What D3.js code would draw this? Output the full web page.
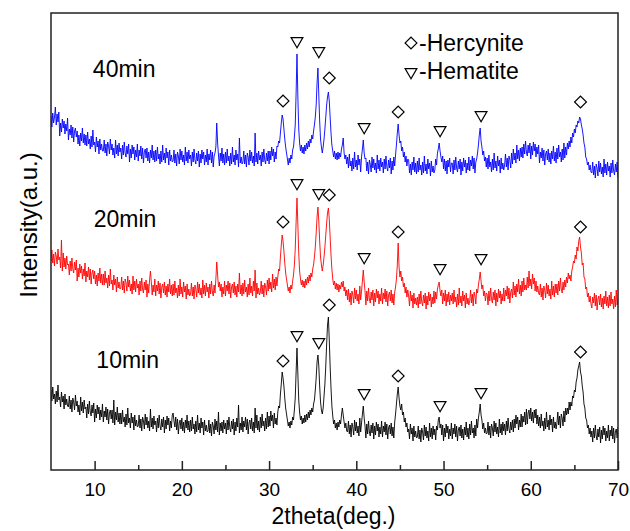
<!DOCTYPE html>
<html>
<head>
<meta charset="utf-8">
<script src="https://cdn.jsdelivr.net/npm/d3@7"></script>
<style>
  body { margin: 0; background: #fff; }
  svg { display: block; }
  text { font-family: "Liberation Sans", Arial, sans-serif; fill: #000; }
</style>
</head>
<body>
<svg id="chart" width="630" height="531"></svg>
<script>
// ---- Scan settings (2theta grid, degrees) ----
const scanStart = 5;
const scanStep = 0.1;

// ---- Sample names and stacking offsets (a.u.) ----
const sampleNames = ["10min", "20min", "40min"];
const sampleOffsets = [0, 133, 265];

// ---- Measured intensities (a.u.), one value per scan step, 5.0 to 70.0 deg (one row = 2 deg) ----
const int10 = [
  80,69,83,71,76,66,79,68,85,70,73,63,78,68,74,61,76,65,71,64,
  63,74,61,70,58,72,68,60,75,64,69,58,65,55,73,59,68,57,70,61,
  63,52,66,56,69,58,54,65,57,67,48,61,52,65,56,63,50,60,53,66,
  48,59,53,63,50,61,46,57,60,51,60,47,70,45,58,50,63,48,57,46,
  57,46,60,48,53,43,56,45,62,47,52,42,57,47,53,40,55,44,50,43,
  44,55,42,51,39,53,49,41,56,45,53,42,49,39,61,43,52,41,54,45,
  49,38,52,42,55,44,40,51,43,53,37,50,41,54,45,52,39,49,42,55,
  57,49,43,53,40,51,36,47,50,41,52,39,48,37,50,42,55,40,49,38,
  50,39,53,41,46,36,49,38,55,40,47,37,52,42,48,35,50,39,45,38,
  39,50,37,46,34,48,44,36,51,40,49,38,58,35,47,39,48,37,50,41,
  47,36,50,40,53,42,38,49,41,51,35,48,39,52,43,65,37,47,40,53,
  38,49,43,53,40,51,36,47,50,41,52,39,48,37,62,42,55,40,49,38,
  53,42,56,44,49,39,52,41,58,43,54,44,59,49,55,42,57,46,52,45,
  58,64,62,76,86,98,92,84,72,62,56,50,44,48,42,49,45,53,50,60,
  72,98,122,96,70,58,50,54,46,52,47,55,48,56,50,58,52,60,55,62,
  58,66,70,80,92,108,115,104,84,68,60,56,62,74,86,104,126,145,153,130,
  104,82,64,54,46,50,42,47,40,48,43,50,46,55,62,55,48,42,47,39,
  38,49,36,45,33,47,43,35,50,39,48,37,44,34,52,38,47,56,64,52,
  44,32,46,36,49,38,34,45,37,47,31,44,35,48,39,46,33,43,36,49,
  33,44,38,48,35,46,31,42,45,36,47,34,43,32,48,56,66,76,83,72,
  64,60,66,55,58,48,52,43,47,38,41,31,46,36,42,29,44,33,39,32,
  33,44,31,40,28,42,38,30,45,34,43,32,39,29,47,33,42,31,44,35,
  41,30,44,40,50,53,42,46,35,45,29,42,33,46,37,44,31,41,34,47,
  31,42,36,46,33,44,29,40,43,34,45,32,41,30,43,35,48,33,42,31,
  46,35,49,37,42,32,45,34,51,42,52,58,66,55,50,41,47,37,42,36,
  37,48,35,44,32,46,42,34,49,38,47,36,43,33,51,37,46,35,48,39,
  46,35,49,39,52,41,37,48,40,50,38,51,42,55,46,53,40,50,43,56,
  43,54,48,58,45,61,46,57,60,51,62,49,58,47,60,52,61,46,55,44,
  53,42,56,44,49,39,52,41,58,43,50,40,55,45,51,38,53,42,48,41,
  47,58,45,54,42,56,52,44,59,48,62,55,62,56,68,60,68,64,74,72,
  80,78,88,92,100,104,108,98,94,84,78,66,62,52,50,42,45,36,42,33,
  39,28,42,32,45,34,30,41,33,43,27,40,31,44,35,42,29,39,32,45,
  29,40,34,44,31,42,27,38,41,32,43
];
const int20 = [
  76,87,74,83,71,85,81,73,88,77,80,69,97,66,84,70,79,68,81,72,
  73,62,76,66,79,68,64,75,67,77,56,69,60,73,64,71,58,68,61,74,
  55,66,60,70,57,68,53,64,67,58,66,53,62,51,64,56,69,54,63,52,
  63,52,66,54,59,49,62,51,68,53,57,47,62,52,58,45,60,49,55,48,
  49,60,47,56,44,58,54,46,61,50,57,46,53,43,61,47,56,45,58,49,
  53,42,56,46,59,48,44,55,47,57,40,53,44,57,66,55,42,52,45,58,
  41,52,46,56,43,54,39,50,53,44,55,42,51,40,53,45,58,43,52,41,
  53,42,56,44,49,39,52,41,58,43,50,40,55,45,51,38,53,42,48,41,
  43,54,41,50,38,52,48,40,55,44,53,42,49,39,57,43,52,41,54,45,
  50,39,53,43,56,45,41,52,44,58,75,62,50,55,46,53,40,50,43,56,
  41,52,46,56,43,54,39,50,53,44,55,42,51,40,53,45,64,43,52,41,
  54,43,57,45,50,40,53,42,59,44,51,41,56,46,67,39,54,43,49,42,
  45,56,43,52,40,54,50,42,57,46,59,48,55,45,63,49,58,47,60,51,
  60,68,66,80,92,102,96,86,74,64,58,52,46,50,44,52,48,56,62,72,
  88,115,139,112,84,66,58,52,57,50,56,49,58,52,60,54,62,56,64,60,
  68,72,80,90,104,120,130,116,96,80,72,66,72,80,90,102,114,124,129,118,
  100,82,68,58,52,56,48,54,47,53,45,52,48,55,50,56,46,50,41,47,
  37,48,35,44,32,46,42,34,49,38,47,36,43,33,51,37,46,56,67,55,
  46,32,46,36,49,38,34,45,37,47,31,44,35,48,39,46,33,43,36,49,
  33,44,38,48,35,46,31,42,45,36,47,34,43,32,45,50,58,72,94,70,
  60,66,56,60,50,54,44,50,40,47,41,31,46,36,42,29,44,33,39,32,
  40,29,43,33,46,35,31,42,34,44,28,41,32,45,36,43,30,40,33,46,
  34,45,38,48,52,55,46,41,47,33,44,36,47,31,43,35,45,32,42,36,
  44,33,47,35,40,30,43,32,49,34,41,31,46,36,42,29,44,33,39,32,
  36,47,34,43,31,45,41,33,48,44,52,58,65,56,48,52,41,46,36,44,
  43,32,46,36,49,38,34,45,37,47,31,44,35,48,39,46,33,43,36,49,
  36,47,41,51,38,49,34,45,48,39,55,42,51,40,53,45,58,43,52,41,
  56,45,59,47,52,47,60,49,66,51,58,48,63,53,59,46,56,45,51,44,
  42,53,40,49,37,51,47,39,54,43,52,41,48,38,56,42,51,40,53,44,
  53,42,56,46,59,48,44,55,47,57,50,60,54,64,58,62,56,66,70,76,
  74,82,78,90,86,96,100,90,84,72,74,60,58,48,50,40,44,35,41,33,
  29,40,34,44,31,42,27,38,41,32,43,30,39,28,41,33,46,31,40,29,
  42,31,45,33,38,28,41,30,47,32,39
];
const int40 = [
  89,78,92,82,88,98,80,91,83,93,69,82,73,86,77,84,71,81,74,87,
  65,76,70,80,67,78,63,74,77,68,74,61,70,59,72,64,77,62,71,60,
  70,59,73,61,66,56,69,58,75,60,63,53,68,58,64,51,66,55,61,54,
  54,65,52,61,49,63,59,51,66,55,61,50,57,47,65,51,60,49,62,53,
  57,46,60,50,63,52,48,59,51,61,43,56,47,60,51,58,45,55,48,61,
  44,55,49,59,46,57,42,53,56,47,57,44,53,42,55,47,60,45,54,43,
  55,44,58,46,51,41,54,43,60,45,52,42,57,47,53,40,55,44,50,43,
  44,55,42,51,39,53,49,41,56,45,54,43,50,40,58,44,53,42,55,46,
  50,39,53,43,56,45,41,52,44,54,38,51,42,55,46,53,40,50,43,56,
  40,51,45,55,42,53,38,49,52,58,82,62,50,39,52,44,57,42,51,40,
  53,42,56,44,49,39,52,41,58,43,50,40,55,45,51,38,67,42,48,41,
  43,54,41,50,38,52,48,40,55,44,53,42,49,39,72,43,52,41,54,45,
  50,39,53,43,56,45,41,52,44,54,41,54,45,58,49,56,43,53,46,59,
  58,64,62,72,82,90,86,76,66,58,52,46,40,47,42,50,46,55,58,68,
  80,112,151,108,76,62,54,60,52,58,51,60,54,62,56,64,58,66,62,70,
  66,74,80,88,100,122,137,110,84,66,58,52,58,66,76,88,100,108,113,104,
  88,72,60,54,48,54,46,52,45,53,46,52,48,56,60,67,52,46,50,41,
  48,37,51,39,44,34,47,36,53,38,45,35,50,40,46,33,48,56,65,52,
  46,47,34,43,31,45,41,33,48,37,46,35,42,32,50,36,45,34,47,38,
  43,32,46,36,49,38,34,45,37,47,31,44,35,48,39,50,60,72,81,70,
  62,64,54,58,48,53,43,49,39,46,45,32,41,30,43,35,48,33,42,31,
  44,33,47,35,40,30,43,32,49,34,41,31,46,36,42,29,44,33,39,32,
  35,46,40,52,56,62,54,48,43,49,36,46,34,44,31,45,38,47,33,42,
  42,31,45,35,48,37,33,44,36,46,30,43,34,47,38,45,32,42,35,48,
  34,45,39,49,36,47,32,43,46,52,60,70,77,64,58,50,54,44,48,38,
  47,36,50,38,43,33,46,35,52,37,44,34,49,39,45,32,47,36,42,35,
  40,51,38,47,35,49,45,37,52,41,56,45,52,42,60,46,55,44,57,48,
  58,47,61,51,64,53,49,60,52,62,46,59,50,63,54,61,48,58,51,60,
  42,53,47,57,44,55,40,51,54,45,56,43,52,41,54,46,59,44,53,42,
  57,46,60,48,53,43,56,45,62,47,58,50,62,56,64,58,68,62,72,68,
  76,72,80,78,84,82,88,86,80,76,70,62,58,48,46,40,43,35,40,33,
  32,43,30,39,27,41,37,29,44,33,42,31,38,28,46,32,41,30,43,34,
  39,28,42,32,45,34,30,41,33,43,27
];
const sampleIntensities = [int10, int20, int40];

// ---- Phase reflections (2theta) and marker heights above each pattern (a.u.) ----
const hercyniteAngles = [31.6, 36.9, 44.8, 65.7];
const hematiteAngles = [33.2, 35.7, 40.9, 49.6, 54.3];
const hercyniteHeights = [
  [109, 165, 94, 118],
  [115, 142, 105, 110],
  [104, 127, 93, 103]
];
const hematiteHeights = [
  [135, 128, 77, 65, 78],
  [154, 144, 80, 69, 79],
  [164, 154, 78, 75, 90]
];

// ---- Axis ticks and legend ----
const majorTicks = [10, 20, 30, 40, 50, 60, 70];
const minorTicks = [15, 25, 35, 45, 55, 65];
const legendLabels = ["-Hercynite", "-Hematite"];

// ---- Styling ----
const lineColors = ["#000000", "#ff0000", "#0000ff"];

const svg = d3.select("#chart");
const plot = { left: 51, right: 618, top: 13, bottom: 470 };

const x = d3.scaleLinear().domain([5, 70]).range([plot.left, plot.right]);
const y = d3.scaleLinear().domain([0, 457]).range([plot.bottom, plot.top]);

svg.append("defs").append("clipPath").attr("id", "plot-clip")
  .append("rect")
  .attr("x", plot.left).attr("y", plot.top)
  .attr("width", plot.right - plot.left).attr("height", plot.bottom - plot.top);

// Diffraction patterns, stacked by offset
const line = d3.line()
  .x((d, i) => x(scanStart + i * scanStep))
  .y(d => y(d));

const traces = svg.append("g").attr("clip-path", "url(#plot-clip)");
sampleIntensities.forEach((vals, s) => {
  traces.append("path")
    .datum(vals.map(v => v + sampleOffsets[s]))
    .attr("fill", "none")
    .attr("stroke", lineColors[s])
    .attr("stroke-width", 0.9)
    .attr("d", line);
});

// Phase markers: open diamonds (hercynite) and open down-triangles (hematite)
const diamond = d3.symbol().type(d3.symbolSquare).size(70);
const triangle = d3.symbol().type(d3.symbolTriangle).size(60);
const markers = svg.append("g")
  .attr("fill", "#fff").attr("stroke", "#000").attr("stroke-width", 1.2);

sampleOffsets.forEach((off, s) => {
  hercyniteAngles.forEach((a, k) => {
    markers.append("path")
      .attr("d", diamond())
      .attr("transform", `translate(${x(a)},${y(off + hercyniteHeights[s][k])}) rotate(45)`);
  });
  hematiteAngles.forEach((a, k) => {
    markers.append("path")
      .attr("d", triangle())
      .attr("transform", `translate(${x(a)},${y(off + hematiteHeights[s][k])}) rotate(180)`);
  });
});

// Sample labels
const labelAnchors = [[10.2, 102], [9.9, 110], [9.8, 128]];
sampleNames.forEach((name, s) => {
  svg.append("text")
    .attr("x", x(labelAnchors[s][0]))
    .attr("y", y(sampleOffsets[s] + labelAnchors[s][1]))
    .attr("font-size", 23)
    .text(name);
});

// Legend
const legend = svg.append("g");
legend.append("path")
  .attr("d", diamond())
  .attr("transform", "translate(411,43) rotate(45)")
  .attr("fill", "#fff").attr("stroke", "#000").attr("stroke-width", 1.2);
legend.append("path")
  .attr("d", triangle())
  .attr("transform", "translate(411,72) rotate(180)")
  .attr("fill", "#fff").attr("stroke", "#000").attr("stroke-width", 1.2);
legendLabels.forEach((t, k) => {
  legend.append("text")
    .attr("x", 419).attr("y", 51 + k * 28)
    .attr("font-size", 23)
    .text(t);
});

// Frame
svg.append("rect")
  .attr("x", plot.left).attr("y", plot.top)
  .attr("width", plot.right - plot.left).attr("height", plot.bottom - plot.top)
  .attr("fill", "none").attr("stroke", "#222").attr("stroke-width", 1.5);

// X axis with inward ticks
const xAxis = svg.append("g")
  .attr("transform", `translate(0,${plot.bottom})`)
  .call(d3.axisBottom(x).tickValues(majorTicks).tickSize(-9).tickPadding(13).tickFormat(d3.format("d")));
xAxis.select(".domain").remove();
xAxis.selectAll("line").attr("stroke", "#222").attr("stroke-width", 1.5);
xAxis.selectAll("text").attr("font-size", 19).attr("font-family", "Liberation Sans, Arial, sans-serif").attr("fill", "#000");

const xMinor = svg.append("g")
  .attr("transform", `translate(0,${plot.bottom})`)
  .call(d3.axisBottom(x).tickValues(minorTicks).tickSize(-5).tickFormat(""));
xMinor.select(".domain").remove();
xMinor.selectAll("line").attr("stroke", "#222").attr("stroke-width", 1.5);

// Axis titles
svg.append("text")
  .attr("x", (plot.left + plot.right) / 2 - 1)
  .attr("y", 524)
  .attr("text-anchor", "middle")
  .attr("font-size", 23)
  .text("2theta(deg.)");

svg.append("text")
  .attr("transform", "translate(37,225) rotate(-90)")
  .attr("text-anchor", "middle")
  .attr("font-size", 24)
  .text("Intensity(a.u.)");
</script>
</body>
</html>
